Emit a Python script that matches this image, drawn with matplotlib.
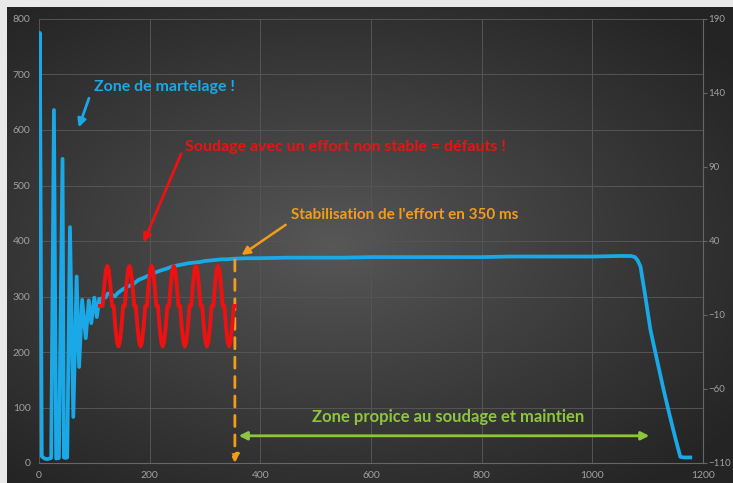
import numpy as np
import matplotlib.pyplot as plt

# effort (courbe bleue), axe gauche
blue_x = [0, 1.5, 5, 10, 15, 22, 27, 31, 36, 42.5, 45, 48, 51, 56, 62, 68, 72.5, 78, 84.5,
          90, 94.5, 100, 104.5, 109, 112, 116, 120, 124, 128, 132, 137, 142, 150, 160,
          170, 180, 190, 200, 210, 220, 230, 241, 250, 260, 270, 280, 290, 300, 310,
          320, 330, 340, 350, 375, 400, 450, 500, 550, 600, 650, 700, 750, 800, 850,
          900, 950, 1000, 1050, 1070, 1077, 1082, 1087, 1095, 1105, 1117, 1129, 1140,
          1150, 1159, 1165, 1177]
blue_y = [335, 775, 12, 8, 7, 9, 636, 8, 9, 548, 10, 9, 10, 425, 83, 336, 173, 294, 225,
          293, 252, 298, 263, 296, 290, 300, 298, 305, 306, 303, 300, 306, 312, 318,
          322, 330, 334, 339, 343, 347, 350, 354, 356, 358, 360, 361, 362, 364, 365,
          366, 367, 367, 368, 369, 369, 370, 370, 370, 371, 371, 371, 371, 371, 372,
          372, 372, 372, 373, 373, 371, 365, 354, 305, 240, 185, 131, 85,
          45, 11, 10, 10]

# effort non stable (courbe rouge)
red_x = [110, 112, 115, 118, 121, 123.5, 126, 129, 132, 135, 138, 141, 143.5, 146, 149,
         152, 155, 158, 161, 163.5, 166, 169, 172, 175, 178, 181, 183.5, 186, 189,
         192, 195, 198, 201, 203.5, 206, 209, 212, 215, 218, 221, 223.5, 226, 229,
         232, 235, 238, 241, 243.5, 246, 249, 252, 255, 258, 261, 263.5, 266, 269,
         272, 275, 278, 281, 283.5, 286, 289, 292, 295, 298, 301, 303.5, 306, 309,
         312, 315, 318, 321, 323.5, 326, 329, 332, 335, 338, 341, 343.5, 346, 349,
         352, 354]
red_y = [283, 283, 283, 320, 348, 355, 348, 320, 283, 283, 245, 218, 210, 218, 245,
         283, 283, 320, 348, 355, 348, 320, 283, 283, 245, 218, 210, 218, 245,
         283, 283, 320, 348, 355, 348, 320, 283, 283, 245, 218, 210, 218, 245,
         283, 283, 320, 348, 355, 348, 320, 283, 283, 245, 218, 210, 218, 245,
         283, 283, 320, 348, 355, 348, 320, 283, 283, 245, 218, 210, 218, 245,
         283, 283, 320, 348, 355, 348, 320, 283, 283, 245, 218, 210, 218, 245,
         283, 283]

x_ticks = [0, 200, 400, 600, 800, 1000, 1200]
left_ticks = [0, 100, 200, 300, 400, 500, 600, 700, 800]
right_ticks = [-110, -60, -10, 40, 90, 140, 190]

BLUE = '#1aa9e6'
RED = '#ee1111'
ORANGE = '#f39c1a'
GREEN = '#8cc63f'
GREY = '#a0a0a0'

plt.rcParams['font.family'] = ['Lato', 'DejaVu Sans']

fig = plt.figure(figsize=(7.33, 4.83), dpi=100, facecolor='#e9e9e9')

# fond sombre avec degrade radial
bg = fig.add_axes([7 / 733, 0, 1 - 7 / 733, 1 - 7 / 483])
bg.axis('off')
gx, gy = np.meshgrid(np.linspace(0, 1, 300), np.linspace(0, 1, 200))
r = np.clip(np.sqrt(((gx - 0.45) / 0.7) ** 2 + ((gy - 0.5) / 0.65) ** 2), 0, 1)
v = (0x58 - (0x58 - 0x24) * r ** 0.9) / 255
bg.imshow(np.dstack([v, v, v]), aspect='auto', extent=[0, 1, 0, 1],
          interpolation='bilinear')

ax = fig.add_axes([39 / 733, 20 / 483, 664 / 733, 444 / 483])
ax.patch.set_alpha(0)
ax.set_xlim(0, 1200)
ax.set_ylim(0, 800)
ax.set_xticks(x_ticks)
ax.set_yticks(left_ticks)
ax.grid(True, color='#555555', lw=0.7)
ax.set_axisbelow(True)
for s in ['top', 'left']:
    ax.spines[s].set_visible(False)
for s in ['bottom', 'right']:
    ax.spines[s].set_color('#666666')
ax.tick_params(length=0, colors=GREY, labelsize=7.5, pad=6)

ax2 = ax.twinx()
ax2.set_ylim(-110, 190)
ax2.set_yticks(right_ticks)
for s in ax2.spines.values():
    s.set_visible(False)
ax2.tick_params(axis='y', length=3, color='#666666', colors=GREY, labelsize=7, pad=1)

ax.plot(blue_x, blue_y, color=BLUE, lw=2.7, solid_joinstyle='round', zorder=3)
ax.plot(red_x, red_y, color=RED, lw=2.8, solid_joinstyle='round', zorder=4)

# annotations
ax.annotate('', xy=(70, 600), xytext=(92, 662),
            arrowprops=dict(arrowstyle='-|>', color=BLUE, lw=2, mutation_scale=12))
ax.text(100, 678, 'Zone de martelage !', color=BLUE, fontsize=11.5, fontweight='bold',
        va='center')

ax.annotate('', xy=(187, 393), xytext=(259, 562),
            arrowprops=dict(arrowstyle='-|>', color=RED, lw=2, mutation_scale=12))
ax.text(264, 569, 'Soudage avec un effort non stable = défauts !', color=RED,
        fontsize=11.5, fontweight='bold', va='center')

ax.annotate('', xy=(362, 372), xytext=(450, 432),
            arrowprops=dict(arrowstyle='-|>', color=ORANGE, lw=1.8, mutation_scale=12))
ax.text(455, 447, "Stabilisation de l'effort en 350 ms", color=ORANGE,
        fontsize=11, fontweight='bold', va='center')
ax.annotate('', xy=(354, 0), xytext=(354, 366),
            arrowprops=dict(arrowstyle='-|>', color=ORANGE, lw=2, linestyle=(0, (4, 3)),
                            mutation_scale=12, shrinkA=0, shrinkB=0))

ax.annotate('', xy=(361, 49), xytext=(1103, 49),
            arrowprops=dict(arrowstyle='<|-|>', color=GREEN, lw=2, mutation_scale=12,
                            shrinkA=0, shrinkB=0))
ax.text(739, 82, 'Zone propice au soudage et maintien', color=GREEN, fontsize=12,
        fontweight='bold', ha='center', va='center')

fig.savefig('out.png', dpi=100, facecolor=fig.get_facecolor())
